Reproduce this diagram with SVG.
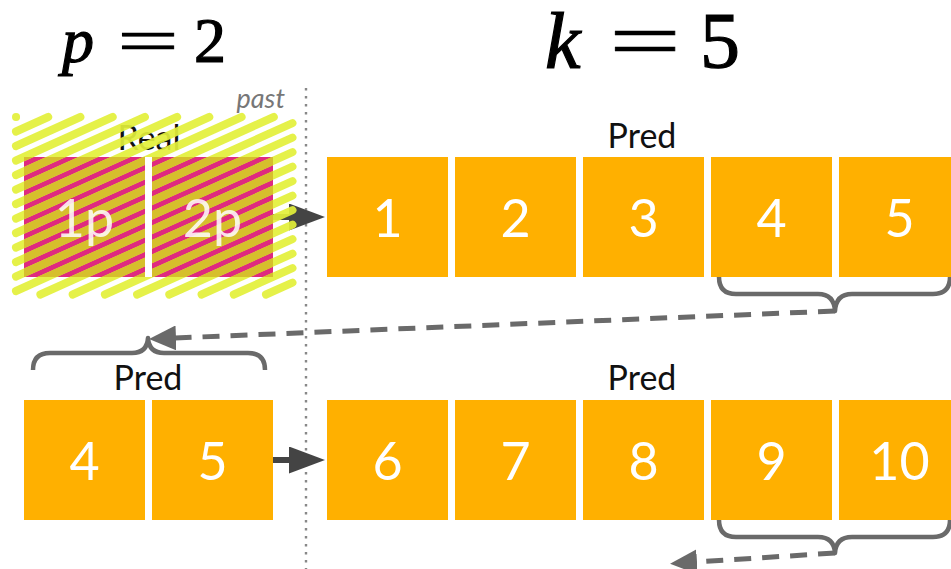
<svg xmlns="http://www.w3.org/2000/svg" xmlns:xlink="http://www.w3.org/1999/xlink" width="951" height="569" viewBox="0 0 951 569">
<style>
.box{fill:#ffb000}
.pink{fill:#df2a7f}
.num{font-family:Lato,"Liberation Sans",sans-serif;font-weight:400;font-size:52px;fill:#fff;text-anchor:middle}
.lbl{font-family:Lato,"Liberation Sans",sans-serif;font-size:34px;fill:#111;text-anchor:middle}
.math{font-family:"Liberation Serif",serif;fill:#000;stroke:#000;stroke-width:1.2}
.brace{fill:none;stroke:#6a6a6a;stroke-width:4.5;stroke-linejoin:round}
.dash{fill:none;stroke:#6a6a6a;stroke-width:5;stroke-dasharray:17 11}
.solid{fill:none;stroke:#444;stroke-width:6}
</style>
<defs>
<marker id="ah" markerUnits="userSpaceOnUse" viewBox="0 0 36 27" refX="1" refY="13.5" markerWidth="36" markerHeight="27" orient="auto"><path d="M0,0 L36,13.5 L0,27 z" fill="#444"/></marker>
<marker id="dh" markerUnits="userSpaceOnUse" viewBox="0 0 27 25" refX="1" refY="12.5" markerWidth="27" markerHeight="25" orient="auto"><path d="M0,0 L27,12.5 L0,25 z" fill="#6a6a6a"/></marker>
<clipPath id="pclip"><rect x="24" y="157" width="121" height="120"/><rect x="152" y="157" width="121" height="120"/></clipPath>
<path id="hl" fill="none" stroke-width="8" stroke-linecap="round" d="M16,117L16.1,117 M16,131.5L48.2,117 M16,146L80.4,117 M16,160.5L112.7,117 M16,175L144.9,117 M16,189.5L177.1,117 M16,204L209.3,117 M16,218.5L241.6,117 M16,233L273.8,117 M16,247.5L292.5,123.1 M16,262L292.5,137.6 M16,276.5L292.5,152.1 M16,291L292.5,166.6 M40.4,294.5L292.5,181.1 M72.7,294.5L292.5,195.6 M104.9,294.5L292.5,210.1 M137.1,294.5L292.5,224.6 M169.3,294.5L292.5,239.1 M201.6,294.5L292.5,253.6 M233.8,294.5L292.5,268.1 M266,294.5L292.5,282.6"/>
</defs>
<rect width="951" height="569" fill="#fff"/>

<!-- titles -->
<g id="title-p">
<text class="math" font-size="64" y="62"><tspan x="62" font-style="italic">p</tspan><tspan x="194">2</tspan></text>
<text class="math" font-size="64" y="62" x="117" textLength="62" lengthAdjust="spacingAndGlyphs" style="stroke-width:0.6">=</text>
</g>
<g id="title-k">
<text class="math" font-size="80" y="68"><tspan x="545" font-style="italic">k</tspan><tspan x="700">5</tspan></text>
<text class="math" font-size="80" y="68" x="609" textLength="72" lengthAdjust="spacingAndGlyphs" style="stroke-width:0.6">=</text>
</g>

<!-- divider -->
<line x1="306" y1="88" x2="306" y2="569" stroke="#888" stroke-width="2.4" stroke-dasharray="2.4 5.6"/>
<text x="285" y="108" text-anchor="end" font-family="Lato,'Liberation Sans',sans-serif" font-style="italic" font-size="27" fill="#777">past</text>

<!-- connectors -->
<g id="connectors">
<line class="solid" x1="273" y1="217" x2="290" y2="217" marker-end="url(#ah)"/>
<line class="solid" x1="273" y1="460" x2="290" y2="460" marker-end="url(#ah)"/>
<path class="brace" d="M719,277 Q719,294 736,294 L818,294 Q834,294 835,311 Q836,294 852,294 L933,294 Q950,294 950,277"/>
<path class="brace" d="M33,370 Q33,353 50,353 L132,353 Q147,353 148,338 Q149,353 164,353 L248,353 Q265,353 265,370"/>
<path class="brace" d="M719,520 Q719,537 736,537 L818,537 Q834,537 835,553 Q836,537 852,537 L933,537 Q950,537 950,520"/>
<line class="dash" x1="835" y1="311" x2="175" y2="338" marker-end="url(#dh)"/>
<line class="dash" x1="835" y1="553" x2="696" y2="562" marker-end="url(#dh)"/>
</g>

<!-- real (past) block -->
<g id="real">
<text class="lbl" x="149" y="150">Real</text>
<rect class="pink" x="24" y="157" width="121" height="120"/>
<rect class="pink" x="152" y="157" width="121" height="120"/>
<use xlink:href="#hl" stroke="#e3f03a" opacity="0.92"/>
<use xlink:href="#hl" stroke="#d6bf2c" clip-path="url(#pclip)"/>
<rect x="145" y="157" width="7" height="120" fill="#fff"/>
<text class="num" x="84.5" y="237" opacity="0.85">1p</text>
<text class="num" x="212.5" y="237" opacity="0.85">2p</text>
</g>

<!-- top predictions -->
<text class="lbl" x="642" y="148">Pred</text>
<g id="n1"><rect class="box" x="327" y="157" width="121" height="120"/><text class="num" x="387.5" y="237">1</text></g>
<g id="n2"><rect class="box" x="455" y="157" width="121" height="120"/><text class="num" x="515.5" y="237">2</text></g>
<g id="n3"><rect class="box" x="583" y="157" width="121" height="120"/><text class="num" x="643.5" y="237">3</text></g>
<g id="n4"><rect class="box" x="711" y="157" width="121" height="120"/><text class="num" x="771.5" y="237">4</text></g>
<g id="n5"><rect class="box" x="839" y="157" width="121" height="120"/><text class="num" x="899.5" y="237">5</text></g>

<!-- bottom left -->
<text class="lbl" x="148" y="390">Pred</text>
<g id="b4"><rect class="box" x="24" y="400" width="121" height="120"/><text class="num" x="84.5" y="480">4</text></g>
<g id="b5"><rect class="box" x="152" y="400" width="121" height="120"/><text class="num" x="212.5" y="480">5</text></g>

<!-- bottom right -->
<text class="lbl" x="642" y="390">Pred</text>
<g id="n6"><rect class="box" x="327" y="400" width="121" height="120"/><text class="num" x="387.5" y="480">6</text></g>
<g id="n7"><rect class="box" x="455" y="400" width="121" height="120"/><text class="num" x="515.5" y="480">7</text></g>
<g id="n8"><rect class="box" x="583" y="400" width="121" height="120"/><text class="num" x="643.5" y="480">8</text></g>
<g id="n9"><rect class="box" x="711" y="400" width="121" height="120"/><text class="num" x="771.5" y="480">9</text></g>
<g id="n10"><rect class="box" x="839" y="400" width="121" height="120"/><text class="num" x="899.5" y="480">10</text></g>
</svg>
